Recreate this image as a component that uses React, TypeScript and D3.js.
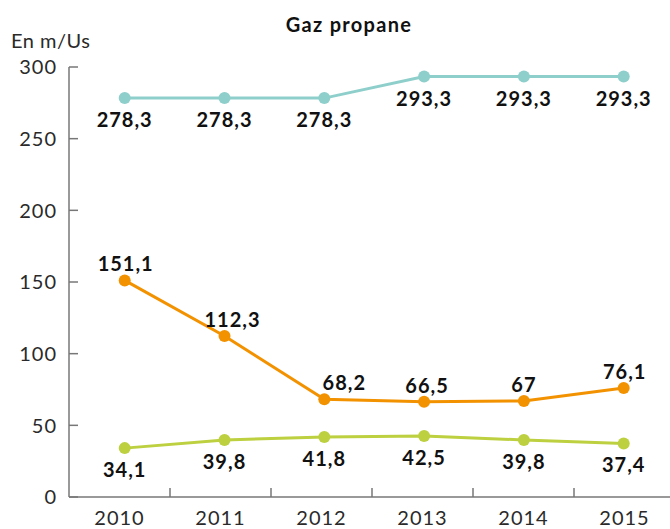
import React from "react";
import * as d3 from "d3";

const years = ["2010", "2011", "2012", "2013", "2014", "2015"];
const teal = [278.3, 278.3, 278.3, 293.3, 293.3, 293.3];
const orange = [151.1, 112.3, 68.2, 66.5, 67, 76.1];
const lime = [34.1, 39.8, 41.8, 42.5, 39.8, 37.4];
const yTicks = [0, 50, 100, 150, 200, 250, 300];

const fmt = (v: number) => String(v).replace(".", ",");

export default function App() {
  const W = 670, H = 529;
  const y = d3.scaleLinear().domain([0, 300]).range([497, 67]);
  const band = d3.scaleBand().domain(years).range([69, 675]);
  const xp = d3.scalePoint().domain(years).range([124.7, 623.7]);
  const line = d3.line<number>().x((_, i) => xp(years[i])!).y((d) => y(d));
  const font = "Lato, 'Open Sans', sans-serif";

  const series = [
    { vals: teal, color: "#8ecfcb", pos: "below", dx: [0, 0, 0, 0, 0, 0] },
    { vals: orange, color: "#f39200", pos: "above", dx: [1, 8, 20, 3, 0, 1] },
    { vals: lime, color: "#bdd03f", pos: "below", dx: [0, 0, 0, 0, 0, 0] },
  ];

  const bandTicks = years.slice(1).map((yr) => band(yr)!);

  return (
    <svg width={W} height={H} style={{ position: "absolute", left: 0, top: 0 }} fontFamily={font}>
      <text x={349} y={32} textAnchor="middle" fontSize={20} fontWeight={700} fill="#111" letterSpacing={1.3}>Gaz propane</text>
      <text x={11} y={48} fontSize={20} fill="#2a2a2a" letterSpacing={0.5}>En m/Us</text>
      {/* y axis */}
      <line x1={69} x2={69} y1={y(300)} y2={y(0)} stroke="#777" strokeWidth={1.5} />
      {yTicks.map((t) => (
        <g key={t}>
          <line x1={69} x2={78} y1={y(t)} y2={y(t)} stroke="#777" strokeWidth={1.5} />
          <text x={57} y={y(t)} dy="0.36em" textAnchor="end" fontSize={20} fill="#2a2a2a" letterSpacing={1}>{t}</text>
        </g>
      ))}
      {/* x axis */}
      <line x1={69} x2={670} y1={497} y2={497} stroke="#777" strokeWidth={1.5} />
      {bandTicks.map((bx, i) => (
        <line key={i} x1={bx} x2={bx} y1={497} y2={488} stroke="#777" strokeWidth={1.5} />
      ))}
      {years.map((yr) => (
        <text key={yr} x={band(yr)! + band.bandwidth() / 2} y={525} textAnchor="middle" fontSize={20} fill="#2a2a2a" letterSpacing={1}>{yr}</text>
      ))}
      {series.map((s, si) => (
        <g key={si}>
          <path d={line(s.vals)!} fill="none" stroke={s.color} strokeWidth={3} />
          {s.vals.map((v, i) => (
            <circle key={i} cx={xp(years[i])!} cy={y(v)} r={6} fill={s.color} />
          ))}
          {s.vals.map((v, i) => (
            <text
              key={"l" + i}
              x={xp(years[i])! + s.dx[i]}
              y={y(v) + (s.pos === "below" ? 22 : -16)}
              dy="0.35em"
              textAnchor="middle"
              fontSize={20}
              fontWeight={700}
              fill="#111"
              letterSpacing={1}
            >
              {fmt(v)}
            </text>
          ))}
        </g>
      ))}
    </svg>
  );
}
